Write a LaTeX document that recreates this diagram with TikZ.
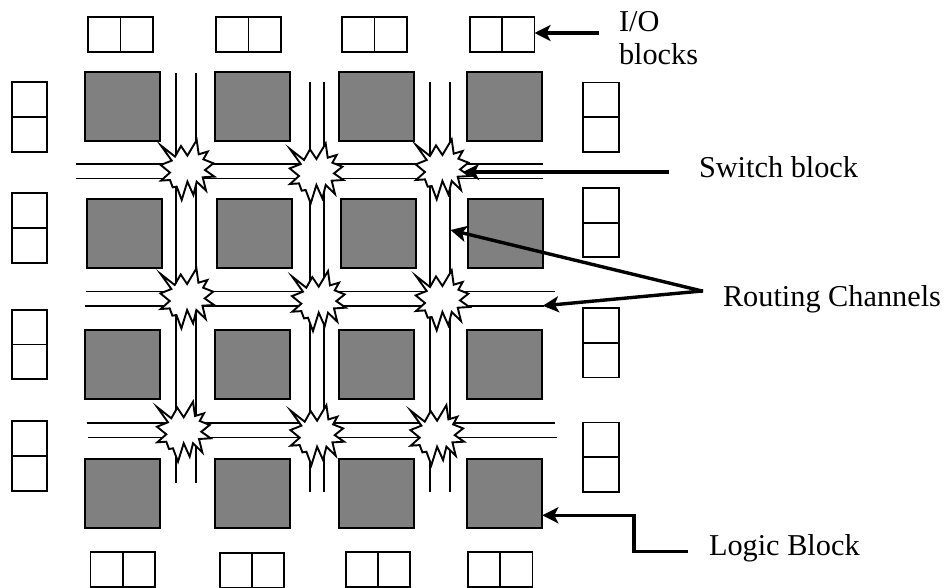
\documentclass[tikz,border=0pt]{standalone}
\usepackage{fontspec}
\setmainfont{Liberation Serif}
\usetikzlibrary{arrows.meta}
\definecolor{blockgray}{HTML}{808080}
\tikzset{
  logicblock/.style={draw=black,line width=2.1pt,fill=blockgray,minimum width=75pt,minimum height=69pt,inner sep=0pt,outer sep=0pt},
  iocellh/.style={draw=black,line width=1.9pt,fill=white,minimum width=32.2pt,minimum height=34.7pt,inner sep=0pt,outer sep=0pt},
  iocellv/.style={draw=black,line width=1.9pt,fill=white,minimum width=35.5pt,minimum height=34.8pt,inner sep=0pt,outer sep=0pt},
  wire/.style={draw=black,line width=1.6pt},
  pointer/.style={draw=black,line width=3.4pt,-{Stealth[length=16pt,width=16pt,inset=4pt]}},
  callout/.style={anchor=base west,inner sep=0pt,outer sep=0pt,font=\fontsize{30.3pt}{34pt}\selectfont},
  burst/.pic={
    \path[draw=black,fill=white,line width=1.9pt,line join=miter,miter limit=10]
      (-25.7,-22.7)--(-11.7,-11.7)--(-5.7,-22.3)--(0.7,-12.7)--(10,-28.3)--(12,-14)--(21,-16.7)--(16.7,-9)
      --(26.7,-5)--(18.3,1.7)--(27.7,8.3)--(16,9)--(19.3,22.3)--(10,13.3)--(6.7,26.7)--(0.7,13.3)
      --(-5,31.7)--(-10,18.3)--(-14,19)--(-16.7,11.7)--(-25.7,12.3)--(-16.7,4.3)--(-26,-3.3)--(-15,-7.7)--cycle;
  }
}
\begin{document}
\begin{tikzpicture}[x=1pt,y=-1pt]
\useasboundingbox (0,0) rectangle (944,588);
% channels
\foreach \n/\xa/\ya/\xb/\yb in {
  va1/176/73/176/483, vb1/196/73/196/483,
  va2/310/82/310/492, vb2/324/82/324/492,
  va3/430/82/430/492, vb3/450/82/450/492,
  ha1/75.7/164.3/543/164.3, hb1/75.7/178.7/543/178.7,
  ha2/86/291.5/555/291.5, hb2/85/306.2/544/306.2,
  ha3/86.7/422.7/555/422.7, hb3/88/437.3/557/437.3}{
  \coordinate (\n s) at (\xa,\ya);
  \coordinate (\n e) at (\xb,\yb);
  \draw[wire] (\n s) -- (\n e);
}
% logic blocks
\foreach \n/\x/\y in {
  b11/85/71.7, b12/215/71.7, b13/339/71.7, b14/466.7/71.7,
  b21/86.7/199, b22/216.7/199, b23/340.7/199, b24/468/199,
  b31/85/330, b32/215/330, b33/339/330, b34/466.7/330,
  b41/85/459, b42/215/459, b43/339/459, b44/466.7/459}{
  \node[logicblock] (\n) at (\x+37.5,\y+34.5) {};
}
% top and bottom I/O blocks
\foreach \n/\x/\y in {
  t1/120.5/34.3, t2/248.5/34.3, t3/374.5/34.3, t4/502.3/34.3,
  u1/122.7/569.5, u2/252.2/570.7, u3/378/569.5, u4/500.3/569.5}{
  \node[iocellh] (\n a) at (\x-16.1,\y) {};
  \node[iocellh] (\n b) at (\x+16.1,\y) {};
}
% left and right I/O blocks
\foreach \n/\x/\y in {
  l1/29.6/117, l2/29.6/228, l3/29.6/344.5, l4/29.6/455.8,
  r1/601.1/117.3, r2/601.1/222.6, r3/601.1/342.7, r4/601.1/457.3}{
  \node[iocellv] (\n a) at (\x,\y-17.4) {};
  \node[iocellv] (\n b) at (\x,\y+17.4) {};
}
% switch blocks
\pic (s11) at (186.7,168.3) {burst};
\pic (s12) at (315.7,171.7) {burst};
\pic (s13) at (441.7,167.7) {burst};
\pic (s21) at (186.4,296.7) {burst};
\pic (s22) at (318,299.4) {burst};
\pic (s23) at (441.7,298.7) {burst};
\pic (s31) at (183,430) {burst};
\pic (s32) at (316.4,433.4) {burst};
\pic (s33) at (436.4,433.4) {burst};
% labels
\node[callout] (lblio) at (619,32) {I/O};
\node[callout] (lblblocks) at (619,65) {blocks};
\node[callout] (lblswitch) at (699,178) {Switch block};
\node[callout] (lblrouting) at (723,306) {Routing Channels};
\node[callout] (lbllogic) at (709,555) {Logic Block};
% arrows
\coordinate (ioarrow) at (598.7,33);
\coordinate (swarrow) at (669,172);
\coordinate (swtip) at (463,172);
\coordinate (rtapex) at (702,291);
\coordinate (rttipa) at (450.5,230);
\coordinate (rttipb) at (542.7,305.8);
\coordinate (lgstart) at (688,551.7);
\coordinate (lgbend) at (634,551.7);
\coordinate (lgtip) at (542.3,515.3);
\draw[pointer] (ioarrow) -- (t4b.east |- ioarrow);
\draw[pointer] (swarrow) -- (swtip);
\draw[pointer,shorten <=-1pt] (rtapex) -- (rttipa);
\draw[pointer,shorten <=-1pt] (rtapex) -- (rttipb);
\draw[pointer,line join=miter] (lgstart) -- (lgbend) |- (lgtip);
\end{tikzpicture}
\end{document}
